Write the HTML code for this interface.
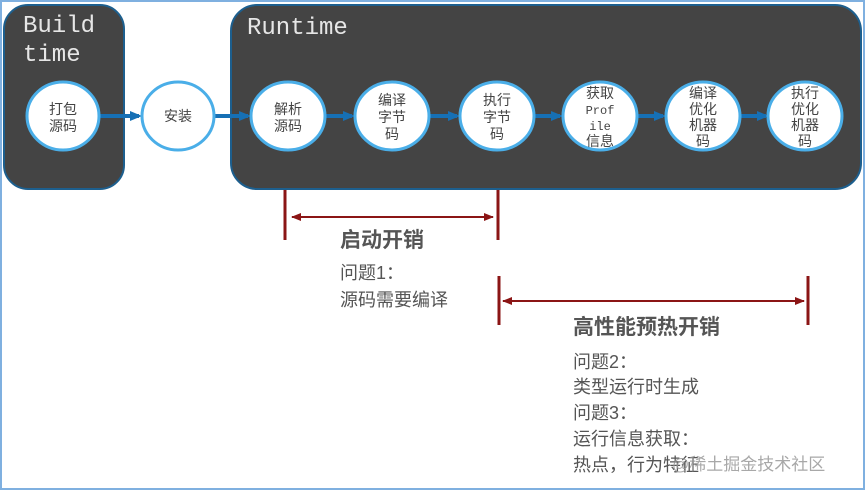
<!DOCTYPE html>
<html><head><meta charset="utf-8"><style>
html,body{margin:0;padding:0;background:#fff;}
svg{display:block;}
.m{font-family:"Liberation Mono","Noto Sans CJK SC",monospace;}
.c{font-family:"Liberation Sans","Noto Sans CJK SC",sans-serif;}
</style></head><body>
<svg width="866" height="493" viewBox="0 0 866 493" xmlns="http://www.w3.org/2000/svg">
<defs>
<marker id="ab" markerWidth="12" markerHeight="10" refX="9" refY="5" orient="auto" markerUnits="userSpaceOnUse"><path d="M0,0 L12,5 L0,10 Z" fill="#1670b5"/></marker>
<marker id="ar" markerWidth="10" markerHeight="8" refX="9" refY="4" orient="auto-start-reverse" markerUnits="userSpaceOnUse"><path d="M0,0 L10,4 L0,8 Z" fill="#8b1515"/></marker>
</defs>
<rect x="1" y="1" width="863" height="488" fill="#fff" stroke="#7fb0e0" stroke-width="2"/>
<rect x="4" y="5" width="120" height="184" rx="24" fill="#444" stroke="#1d5f8e" stroke-width="2"/>
<rect x="231" y="5" width="630" height="184" rx="26" fill="#444" stroke="#1d5f8e" stroke-width="2"/>
<text x="23" y="32" class="m" font-size="24" fill="#e6e6e6">Build</text>
<text x="23" y="61" class="m" font-size="24" fill="#e6e6e6">time</text>
<text x="247" y="34" class="m" font-size="24" fill="#e6e6e6">Runtime</text>
<g stroke="#1670b5" stroke-width="4" marker-end="url(#ab)">
<line x1="100" y1="116" x2="139" y2="116"/>
<line x1="214" y1="116" x2="248" y2="116"/>
<line x1="325" y1="116" x2="352" y2="116"/>
<line x1="430" y1="116" x2="457" y2="116"/>
<line x1="535" y1="116" x2="560" y2="116"/>
<line x1="638" y1="116" x2="663" y2="116"/>
<line x1="741" y1="116" x2="766" y2="116"/>
</g>
<g fill="#fff" stroke="#4aaee8" stroke-width="3">
<ellipse cx="63" cy="116" rx="36" ry="34"/>
<ellipse cx="178" cy="116" rx="36" ry="34"/>
<ellipse cx="288" cy="116" rx="37" ry="34"/>
<ellipse cx="392" cy="116" rx="37" ry="34"/>
<ellipse cx="497" cy="116" rx="37" ry="34"/>
<ellipse cx="600" cy="116" rx="37" ry="34"/>
<ellipse cx="703" cy="116" rx="37" ry="34"/>
<ellipse cx="805" cy="116" rx="37" ry="34"/>
</g>
<g class="c" font-size="14" fill="#444" text-anchor="middle">
<text x="63" y="114">打包</text><text x="63" y="131">源码</text>
<text x="178" y="121">安装</text>
<text x="288" y="114">解析</text><text x="288" y="131">源码</text>
<text x="392" y="105">编译</text><text x="392" y="122">字节</text><text x="392" y="139">码</text>
<text x="497" y="105">执行</text><text x="497" y="122">字节</text><text x="497" y="139">码</text>
<text x="600" y="98">获取</text>
<text x="600" y="114" class="m" font-size="12">Prof</text>
<text x="600" y="130" class="m" font-size="12">ile</text>
<text x="600" y="146">信息</text>
<text x="703" y="98">编译</text><text x="703" y="114">优化</text><text x="703" y="130">机器</text><text x="703" y="146">码</text>
<text x="805" y="98">执行</text><text x="805" y="114">优化</text><text x="805" y="130">机器</text><text x="805" y="146">码</text>
</g>
<g stroke="#8b1515" stroke-width="3">
<line x1="285" y1="190" x2="285" y2="240"/>
<line x1="498" y1="190" x2="498" y2="240"/>
<line x1="499" y1="276" x2="499" y2="325"/>
<line x1="808" y1="276" x2="808" y2="325"/>
</g>
<g stroke="#8b1515" stroke-width="2">
<line x1="292" y1="217" x2="493" y2="217" marker-start="url(#ar)" marker-end="url(#ar)"/>
<line x1="503" y1="301" x2="804" y2="301" marker-start="url(#ar)" marker-end="url(#ar)"/>
</g>
<g class="c" fill="#555">
<text x="340" y="247" font-size="21" font-weight="bold">启动开销</text>
<text x="340" y="279" font-size="18">问题1：</text>
<text x="340" y="306" font-size="18">源码需要编译</text>
<text x="573" y="334" font-size="21" font-weight="bold">高性能预热开销</text>
<text x="573" y="368" font-size="18">问题2：</text>
<text x="573" y="393" font-size="18">类型运行时生成</text>
<text x="573" y="419" font-size="18">问题3：</text>
<text x="573" y="445" font-size="18">运行信息获取：</text>
<text x="573" y="471" font-size="18">热点，行为特征</text>
</g>
<text x="672" y="470" class="c" font-size="17" fill="#999" opacity="0.85">@稀土掘金技术社区</text>
</svg>
</body></html>
